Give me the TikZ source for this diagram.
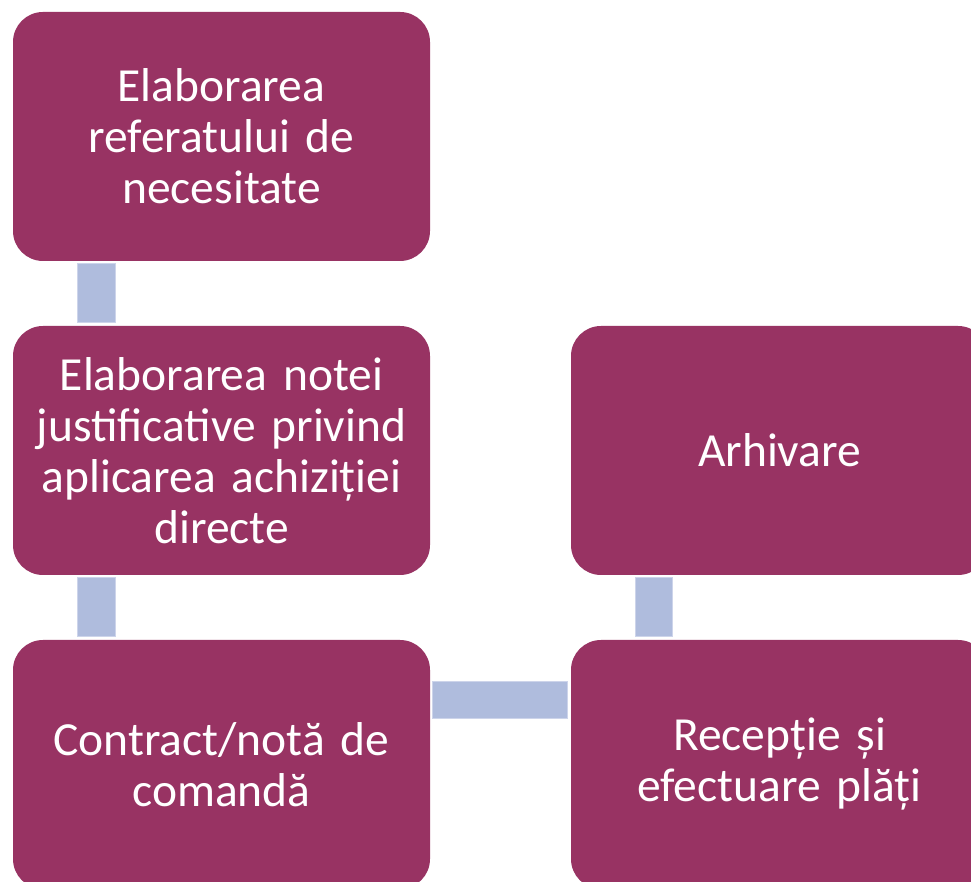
\documentclass[tikz,border=0pt]{standalone}
\usepackage{fontspec}
\setmainfont{Carlito}
\definecolor{boxfill}{RGB}{152,51,99}
\definecolor{barfill}{RGB}{175,188,221}
\definecolor{barline}{RGB}{205,212,234}
\tikzset{
  stepbox/.style={fill=boxfill, draw=none, rounded corners=30pt, minimum width=417pt, minimum height=249pt, inner sep=0pt, text width=412pt, align=center, text=white, font=\fontsize{47.5}{51}\selectfont},
  bar/.style={fill=barfill, draw=barline, line width=0.8pt}
}
\begin{document}
\begin{tikzpicture}[x=1pt,y=1pt]
\useasboundingbox (0,0) rectangle (971,882);
\node[stepbox] (b1) at (221.5,745.5) {Elaborarea\\referatului de\\necesitate};
\node[stepbox] (b2) at (221.5,431.5) {Elaborarea notei\\justificative privind\\aplicarea achiziției\\directe};
\node[stepbox] (b3) at (221.5,117.5) {Contract/notă de\\comandă};
\node[stepbox] (b4) at (779.5,431.5) {Arhivare};
\node[stepbox] (b5) at (779.5,117.5) {Recepție și\\efectuare plăți};
\path[bar] ([xshift=65pt,yshift=-2pt]b1.south west) rectangle ([xshift=103pt,yshift=3pt]b2.north west);
\path[bar] ([xshift=65pt,yshift=-2pt]b2.south west) rectangle ([xshift=103pt,yshift=3pt]b3.north west);
\path[bar] ([xshift=2pt,yshift=-42pt]b3.north east) rectangle ([xshift=-3pt,yshift=-79pt]b5.north west);
\path[bar] ([xshift=65pt,yshift=-2pt]b4.south west) rectangle ([xshift=102pt,yshift=3pt]b5.north west);
\end{tikzpicture}
\end{document}
